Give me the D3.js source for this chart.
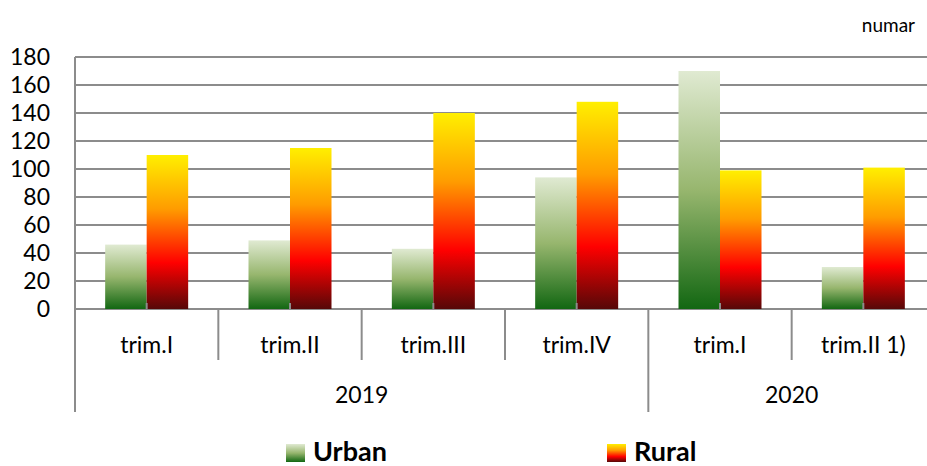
<!DOCTYPE html>
<html>
<head>
<meta charset="utf-8">
<script src="https://cdn.jsdelivr.net/npm/d3@7"></script>
<style>
  body { margin: 0; background: #fff; }
  svg { display: block; font-family: Lato, "Open Sans", sans-serif; }
</style>
</head>
<body>
<svg id="chart" width="927" height="466"></svg>
<script>
// data
const quarters = ['trim.I', 'trim.II', 'trim.III', 'trim.IV', 'trim.I', 'trim.II 1)']
const years = [{label: '2019', from: 0, to: 4}, {label: '2020', from: 4, to: 6}]
const series = ['Urban', 'Rural']
const urban = [46, 49, 43, 94, 170, 30]
const rural = [110, 115, 140, 148, 99, 101]
const yTicks = [0, 20, 40, 60, 80, 100, 120, 140, 160, 180]

const svg = d3.select('#chart')
const gridColor = '#8c8c8c'

const x0 = d3.scaleBand()
    .domain(d3.range(quarters.length))
    .range([75, 935])
    .paddingInner(0)
    .paddingOuter(0)

const x1 = d3.scaleBand()
    .domain(series)
    .range([0, x0.bandwidth()])
    .paddingInner(0)
    .paddingOuter(0.727)

const y = d3.scaleLinear()
    .domain([0, 180])
    .range([309, 57])

// gradients
const defs = svg.append('defs')
const gradUrban = defs.append('linearGradient')
    .attr('id', 'gUrban').attr('x1', 0).attr('y1', 0).attr('x2', 0).attr('y2', 1)
gradUrban.append('stop').attr('offset', '0%').attr('stop-color', '#e0ead2')
gradUrban.append('stop').attr('offset', '50%').attr('stop-color', '#97b66e')
gradUrban.append('stop').attr('offset', '100%').attr('stop-color', '#126712')

const gradRural = defs.append('linearGradient')
    .attr('id', 'gRural').attr('x1', 0).attr('y1', 0).attr('x2', 0).attr('y2', 1)
gradRural.append('stop').attr('offset', '0%').attr('stop-color', '#ffef00')
gradRural.append('stop').attr('offset', '35%').attr('stop-color', '#ff9c00')
gradRural.append('stop').attr('offset', '70%').attr('stop-color', '#ff0000')
gradRural.append('stop').attr('offset', '100%').attr('stop-color', '#560808')

const fills = {Urban: 'url(#gUrban)', Rural: 'url(#gRural)'}

// grid
svg.append('g')
    .selectAll('line')
    .data(yTicks)
    .enter()
    .append('line')
    .attr('x1', 75)
    .attr('x2', 935)
    .attr('y1', d => y(d))
    .attr('y2', d => y(d))
    .attr('stroke', gridColor)
    .attr('stroke-width', 2)

// y labels
svg.append('g')
    .selectAll('text')
    .data(yTicks)
    .enter()
    .append('text')
    .attr('x', 50)
    .attr('y', d => y(d))
    .attr('dy', '0.36em')
    .attr('text-anchor', 'end')
    .attr('font-size', 23)
    .attr('fill', '#000')
    .text(d => d)

// bars
const rows = quarters.map((q, i) => ({i, Urban: urban[i], Rural: rural[i]}))

const groups = svg.append('g')
    .selectAll('g')
    .data(rows)
    .enter()
    .append('g')
    .attr('transform', d => `translate(${x0(d.i)},0)`)

groups.selectAll('rect')
    .data(d => series.map(s => ({s, v: d[s]})))
    .enter()
    .append('rect')
    .attr('x', d => x1(d.s))
    .attr('width', x1.bandwidth())
    .attr('y', d => y(d.v))
    .attr('height', d => y(0) - y(d.v))
    .attr('fill', d => fills[d.s])

// small ticks at category centres
svg.append('g')
    .selectAll('line')
    .data(d3.range(quarters.length))
    .enter()
    .append('line')
    .attr('x1', d => x0(d) + x0.bandwidth() / 2)
    .attr('x2', d => x0(d) + x0.bandwidth() / 2)
    .attr('y1', y(0))
    .attr('y2', y(0) - 6)
    .attr('stroke', gridColor)
    .attr('stroke-width', 2)

// y axis line
svg.append('line')
    .attr('x1', 75).attr('x2', 75)
    .attr('y1', y(180)).attr('y2', 412)
    .attr('stroke', gridColor)
    .attr('stroke-width', 2)

// category separators
const yearStarts = years.map(d => d.from)
svg.append('g')
    .selectAll('line')
    .data(d3.range(1, quarters.length))
    .enter()
    .append('line')
    .attr('x1', d => x0(d))
    .attr('x2', d => x0(d))
    .attr('y1', y(0))
    .attr('y2', d => yearStarts.includes(d) ? 412 : 360)
    .attr('stroke', gridColor)
    .attr('stroke-width', 2)

// quarter labels
svg.append('g')
    .selectAll('text')
    .data(quarters)
    .enter()
    .append('text')
    .attr('x', (d, i) => x0(i) + x0.bandwidth() / 2)
    .attr('y', 345)
    .attr('dy', '0.36em')
    .attr('text-anchor', 'middle')
    .attr('font-size', 23)
    .text(d => d)

// year labels
svg.append('g')
    .selectAll('text')
    .data(years)
    .enter()
    .append('text')
    .attr('x', d => (x0(d.from) + x0(d.to - 1) + x0.bandwidth()) / 2)
    .attr('y', 395)
    .attr('dy', '0.36em')
    .attr('text-anchor', 'middle')
    .attr('font-size', 23)
    .text(d => d.label)

// unit label
svg.append('text')
    .attr('x', 915)
    .attr('y', 25)
    .attr('dy', '0.36em')
    .attr('text-anchor', 'end')
    .attr('font-size', 19)
    .text('numar')

// legend
const legendX = [286, 607]
const legend = svg.append('g')
    .selectAll('g')
    .data(series)
    .enter()
    .append('g')
    .attr('transform', (d, i) => `translate(${legendX[i]},444)`)

legend.append('rect')
    .attr('width', 19)
    .attr('height', 18)
    .attr('fill', d => fills[d])

legend.append('text')
    .attr('x', 27)
    .attr('y', 17)
    .attr('font-size', 27)
    .attr('font-weight', 'bold')
    .text(d => d)
</script>
</body>
</html>
